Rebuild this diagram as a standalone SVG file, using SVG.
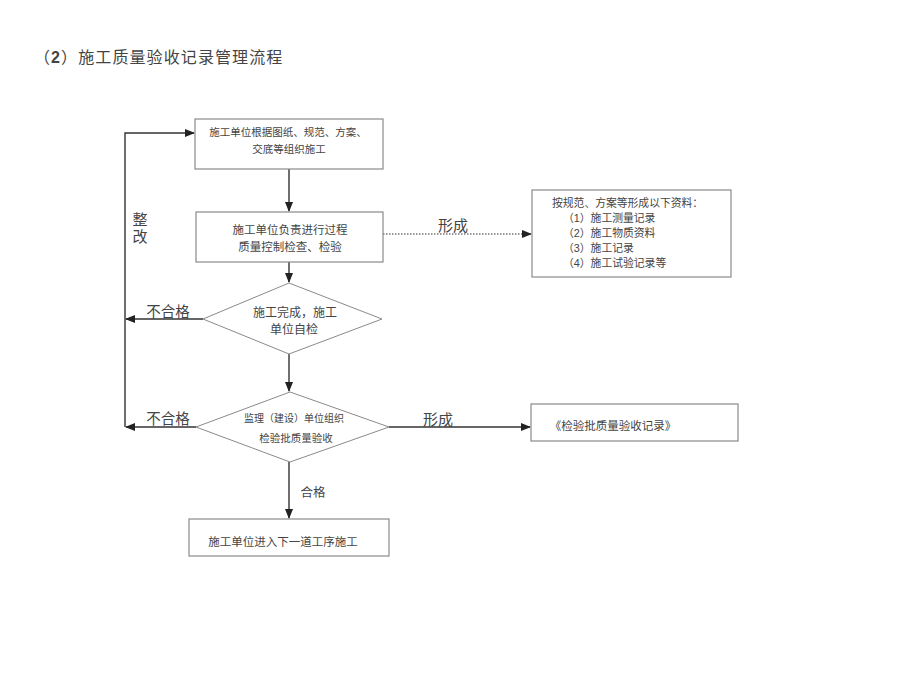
<svg xmlns="http://www.w3.org/2000/svg" width="906" height="682" viewBox="0 0 906 682">
<defs>
<style>
.box{fill:#fff;stroke:#8a8a8a;stroke-width:1.2}
.dia{fill:#fff;stroke:#8a8a8a;stroke-width:1}
.ln{fill:none;stroke:#333;stroke-width:1.4}
.dot{fill:none;stroke:#333;stroke-width:1.2;stroke-dasharray:1.5 1.5}
.t{font-family:"Liberation Sans","Noto Sans CJK SC",sans-serif;fill:#444;text-anchor:middle;dominant-baseline:central}
.tl{font-family:"Liberation Sans","Noto Sans CJK SC",sans-serif;fill:#444;dominant-baseline:central}
</style>
<marker id="ah" markerWidth="10" markerHeight="8" refX="9" refY="4" orient="auto" markerUnits="userSpaceOnUse">
<path d="M0,0 L10,4 L0,8 z" fill="#222"/>
</marker>
</defs>
<rect width="906" height="682" fill="#fff"/>
<text class="tl" x="34" y="57" font-size="16" letter-spacing="1.1" fill="#444">（<tspan font-weight="bold">2</tspan>）施工质量验收记录管理流程</text>

<g id="connectors">
<line class="ln" x1="289" y1="169" x2="289" y2="211" marker-end="url(#ah)"/>
<line class="dot" x1="383" y1="234" x2="531" y2="234" marker-end="url(#ah)"/>
<line class="ln" x1="289" y1="262" x2="289" y2="282" marker-end="url(#ah)"/>
<line class="ln" x1="203" y1="319" x2="126" y2="319" marker-end="url(#ah)"/>
<line class="ln" x1="289" y1="354" x2="289" y2="391" marker-end="url(#ah)"/>
<line class="ln" x1="196" y1="427" x2="126" y2="427" marker-end="url(#ah)"/>
<line class="ln" x1="389" y1="427" x2="530" y2="427" marker-end="url(#ah)"/>
<line class="ln" x1="289" y1="462" x2="289" y2="518" marker-end="url(#ah)"/>
<polyline class="ln" points="125,427 125,133 194,133" marker-end="url(#ah)"/>
<text class="t" x="453" y="225" font-size="15">形成</text>
<text class="t" x="168" y="312" font-size="14.5">不合格</text>
<text class="t" x="168" y="419" font-size="14.5">不合格</text>
<text class="t" x="438" y="419" font-size="15">形成</text>
<text class="t" x="313" y="493" font-size="12.5">合格</text>
<text class="t" x="140" y="219" font-size="15">整</text>
<text class="t" x="140" y="236" font-size="15">改</text>
</g>

<g id="n1">
<rect class="box" x="195" y="119" width="188" height="50"/>
<text class="t" x="288" y="132" font-size="10.5">施工单位根据图纸、规范、方案、</text>
<text class="t" x="289" y="149" font-size="10.5">交底等组织施工</text>
</g>
<g id="n2">
<rect class="box" x="196" y="212" width="187" height="50"/>
<text class="t" x="290" y="230" font-size="11.5">施工单位负责进行过程</text>
<text class="t" x="290" y="247" font-size="11.5">质量控制检查、检验</text>
</g>
<g id="n3">
<rect class="box" x="532" y="190" width="199" height="87"/>
<text class="tl" x="552" y="203" font-size="10.8">按规范、方案等形成以下资料：</text>
<text class="tl" x="563" y="218" font-size="10.8">（1）施工测量记录</text>
<text class="tl" x="563" y="233" font-size="10.8">（2）施工物质资料</text>
<text class="tl" x="563" y="248" font-size="10.8">（3）施工记录</text>
<text class="tl" x="563" y="263" font-size="10.8">（4）施工试验记录等</text>
</g>
<g id="d1">
<polygon class="dia" points="289,283 382,319 289,354 203,319"/>
<text class="t" x="295" y="313" font-size="12">施工完成，施工</text>
<text class="t" x="294" y="330" font-size="12">单位自检</text>
</g>
<g id="d2">
<polygon class="dia" points="290,392 389,427 290,462 196,427"/>
<text class="t" x="294" y="418" font-size="10">监理（建设）单位组织</text>
<text class="t" x="296" y="438" font-size="10.5">检验批质量验收</text>
</g>
<g id="n4">
<rect class="box" x="531" y="404" width="207" height="37"/>
<text class="t" x="613" y="426" font-size="11.5">《检验批质量验收记录》</text>
</g>
<g id="n5">
<rect class="box" x="189" y="519" width="200" height="37"/>
<text class="t" x="283" y="542" font-size="11.5">施工单位进入下一道工序施工</text>
</g>
</svg>
